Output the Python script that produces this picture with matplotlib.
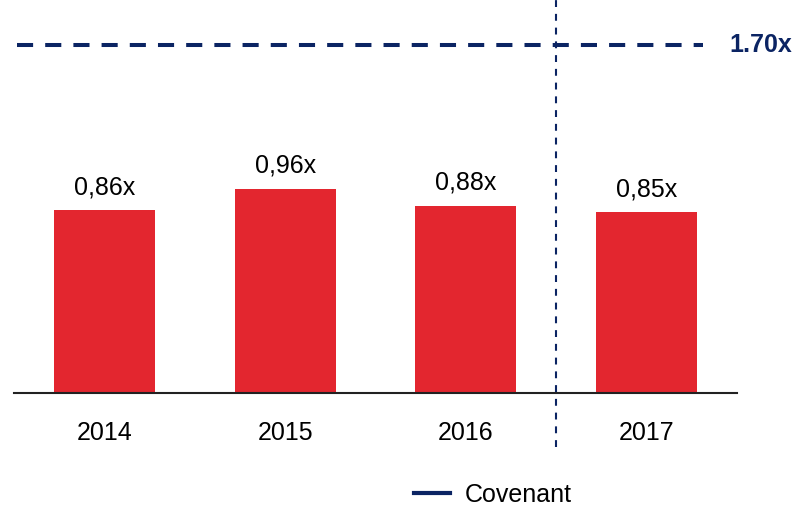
import matplotlib
matplotlib.use("Agg")
import matplotlib.pyplot as plt
from matplotlib.lines import Line2D

# Leverage ratio per year vs. the covenant
years = ["2014", "2015", "2016", "2017"]
ratios = [0.86, 0.96, 0.88, 0.85]
ratio_labels = ["0,86x", "0,96x", "0,88x", "0,85x"]
covenant = 1.70
covenant_label = "1.70x"

RED = "#E3262F"
NAVY = "#0B2463"

plt.rcParams["font.family"] = ["Liberation Sans", "DejaVu Sans"]

fig = plt.figure(figsize=(7.99, 5.07), dpi=100)
ax = fig.add_axes([0.0175, 0.2249, 0.905, 0.7751])

x = range(len(years))
ax.bar(x, ratios, width=0.558, color=RED, zorder=2)
for i, (v, lab) in enumerate(zip(ratios, ratio_labels)):
    ax.text(i, v + 0.05, lab, ha="center", va="bottom", fontsize=18)

ax.set_xlim(-0.5, 3.5)
ax.set_ylim(0, 1.845)
ax.set_xticks(list(x))
ax.set_xticklabels(years, fontsize=18)
ax.tick_params(axis="x", length=0, pad=20)
ax.set_yticks([])
for side in ["top", "right", "left"]:
    ax.spines[side].set_visible(False)
ax.spines["bottom"].set_color("#222222")
ax.spines["bottom"].set_linewidth(1.5)

# separator between actuals and the latest year, runs below the axis
ax.plot([2.5, 2.5], [-0.254, 1.845], color=NAVY, lw=1.5,
        linestyle=(0, (3.3, 3.3)), clip_on=False, zorder=3)

# covenant sits on its own scale, like the original secondary axis
ax2 = ax.twinx()
ax2.set_ylim(0, 1.92)
ax2.set_xlim(-0.5, 3.5)
ax2.axis("off")
ax2.plot([-0.484, 3.31], [covenant, covenant], color=NAVY, lw=2.9,
         linestyle=(0, (4, 3)), solid_capstyle="butt", dash_capstyle="butt")
ax2.text(3.46, covenant, covenant_label, color=NAVY, fontsize=18,
         fontweight="bold", ha="left", va="center", clip_on=False)

handle = Line2D([], [], color=NAVY, lw=3)
fig.legend([handle], ["Covenant"], loc="center", bbox_to_anchor=(0.617, 0.024),
           frameon=False, fontsize=18, handlelength=1.45, handletextpad=0.6)

fig.savefig("out.png", dpi=100)
